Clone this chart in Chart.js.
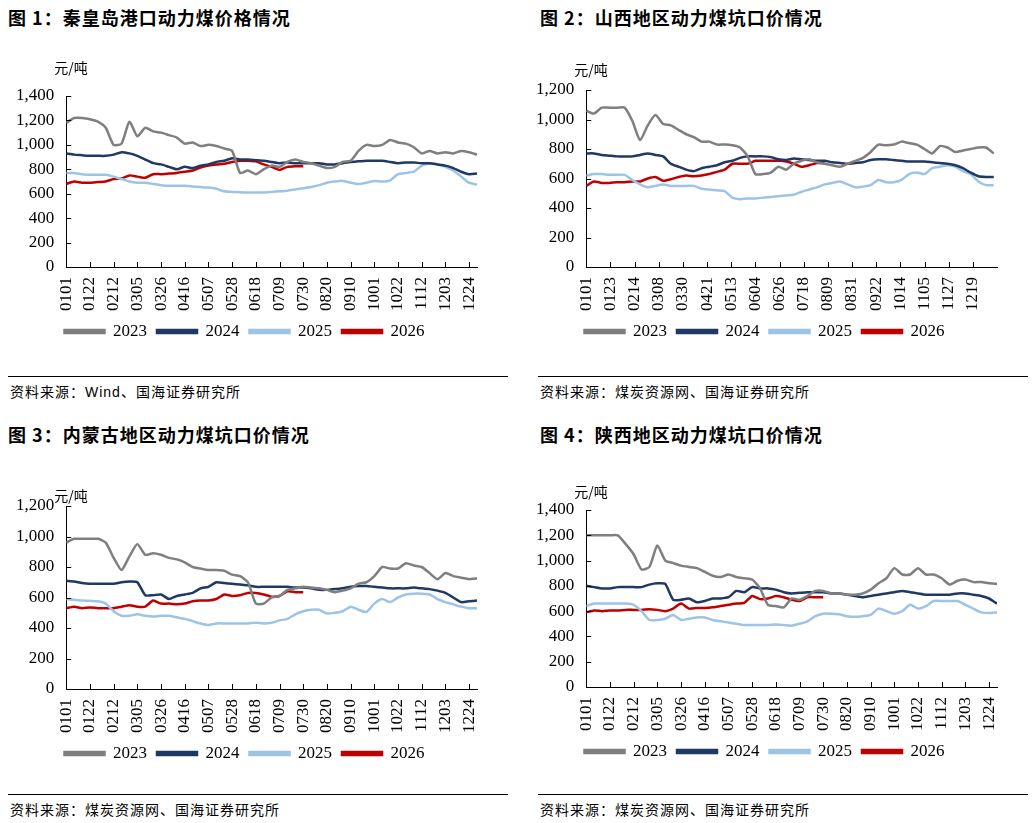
<!DOCTYPE html>
<html><head><meta charset="utf-8">
<script src="https://cdn.jsdelivr.net/npm/chart.js@4"></script>
<style>
body{margin:0;width:1035px;height:823px;background:#fff;position:relative;overflow:hidden;font-family:"Noto Sans CJK SC",sans-serif}
.t{position:absolute;font-weight:bold;font-size:18px;color:#000;letter-spacing:1px}
.s{position:absolute;font-size:14px;color:#000;letter-spacing:1px}
.l{position:absolute;height:1px;background:#000}
canvas{position:absolute}
</style></head><body>
<div class="t" style="left:8px;top:4px">图 1：秦皇岛港口动力煤价格情况</div>
<div class="t" style="left:540px;top:4px">图 2：山西地区动力煤坑口价情况</div>
<div class="t" style="left:8px;top:421px">图 3：内蒙古地区动力煤坑口价情况</div>
<div class="t" style="left:540px;top:421px">图 4：陕西地区动力煤坑口价情况</div>
<div class="l" style="left:8px;top:376px;width:500px"></div>
<div class="l" style="left:538px;top:376px;width:490px"></div>
<div class="l" style="left:8px;top:794px;width:500px"></div>
<div class="l" style="left:538px;top:794px;width:490px"></div>
<div class="s" style="left:10px;top:381px">资料来源：<span style="font-family:Arial,'Liberation Sans'">Wind</span>、国海证券研究所</div>
<div class="s" style="left:540px;top:381px">资料来源：煤炭资源网、国海证券研究所</div>
<div class="s" style="left:10px;top:799px">资料来源：煤炭资源网、国海证券研究所</div>
<div class="s" style="left:540px;top:799px">资料来源：煤炭资源网、国海证券研究所</div>
<canvas id="c1" width="515" height="310" style="left:0;top:40px"></canvas>
<canvas id="c2" width="515" height="310" style="left:520px;top:40px"></canvas>
<canvas id="c3" width="515" height="310" style="left:0;top:462px"></canvas>
<canvas id="c4" width="515" height="300" style="left:520px;top:470px"></canvas>
<script>
// weekly values (x = 7 * index days from 0101)
const years = ['2023','2024','2025','2026'];
const colors = ['#7f7f7f','#1f3864','#9dc3e6','#c00000'];

const qhd2023 = [1180,1220,1220,1210,1190,1140,1000,1010,1190,1070,1140,1110,1100,1080,1060,1010,1020,990,1000,990,970,950,770,790,760,800,830,820,860,880,860,850,830,810,820,860,870,950,1000,990,1000,1040,1020,1010,980,930,950,930,940,930,950,940,920];
const qhd2024 = [930,920,915,910,910,910,920,940,930,910,880,850,840,820,800,820,810,830,840,860,870,890,880,880,875,870,860,850,855,850,850,850,850,840,840,850,860,865,870,870,870,860,850,855,855,850,850,840,830,810,780,760,765];
const qhd2025 = [770,770,760,755,755,755,740,720,700,690,690,680,670,665,665,665,660,655,650,640,620,615,612,610,610,610,615,620,625,635,645,655,670,690,700,705,690,680,690,705,700,710,760,770,780,830,845,840,820,790,740,690,675];
const qhd2026 = [680,700,690,690,695,700,720,725,750,740,730,760,760,765,770,780,790,815,830,840,845,860,870,870,865,840,820,795,820,825,825];

const sx2023 = [1060,1040,1080,1080,1080,1080,990,860,960,1030,970,960,930,900,880,850,850,830,830,825,810,750,630,630,640,680,660,700,720,730,710,700,690,680,700,720,740,780,830,825,830,850,840,830,800,770,820,810,780,790,800,810,810,770];
const sx2024 = [770,770,760,755,750,750,750,760,770,760,750,700,680,660,650,670,680,690,710,720,740,750,750,750,745,730,725,735,730,725,720,720,710,705,700,705,710,725,730,730,725,720,715,715,715,710,705,700,690,670,640,615,610,610];
const sx2025 = [620,630,630,625,625,625,590,560,540,550,560,550,550,550,550,530,525,520,515,470,460,465,465,470,475,480,485,490,510,525,540,560,570,580,560,540,545,555,590,575,575,590,630,640,630,670,680,690,680,650,630,580,555,555];
const sx2026 = [550,580,570,570,575,575,580,580,600,610,585,595,610,620,615,620,630,645,660,700,700,700,720,720,720,720,715,700,680,690,705,705];

const nm2023 = [960,985,985,985,985,960,860,780,870,950,880,890,880,860,850,830,800,790,780,780,775,750,740,700,560,560,600,610,650,660,670,665,660,650,635,645,660,690,700,740,800,790,790,825,810,800,760,720,760,740,730,720,725,715];
const nm2024 = [710,705,695,690,690,690,690,700,705,700,615,615,620,590,610,620,630,660,670,700,695,690,685,680,670,670,670,670,670,665,665,660,650,650,655,660,670,675,675,670,665,660,660,660,665,660,655,645,630,600,570,575,580];
const nm2025 = [590,585,580,578,575,560,510,480,480,490,480,475,480,480,470,460,445,430,420,430,430,430,430,430,435,430,435,450,460,490,510,520,520,495,500,510,540,520,505,560,590,570,600,620,625,625,620,590,570,555,540,530,530];
const nm2026 = [530,540,530,535,530,530,530,540,550,540,540,580,560,560,555,560,575,580,580,590,620,610,615,630,630,620,605,610,640,635,635];

const sxx2023 = [1200,1200,1200,1200,1200,1130,1050,930,950,1120,1000,980,960,950,940,910,880,870,890,870,860,850,780,650,640,630,700,690,720,760,760,740,740,730,730,740,770,820,860,940,890,890,940,890,890,860,810,840,850,830,830,820,815,800];
const sxx2024 = [800,790,780,780,790,790,790,790,810,820,815,690,690,700,670,680,700,700,710,760,750,790,780,780,770,750,740,745,750,750,750,740,740,730,720,710,720,730,740,750,760,750,740,730,730,730,730,740,740,730,720,700,660,630,630];
const sxx2025 = [640,660,660,660,660,660,650,600,530,530,540,570,530,540,550,550,530,520,510,500,490,490,490,490,495,490,485,500,520,560,580,580,575,560,555,560,570,620,600,580,600,650,620,640,680,680,680,680,650,620,590,585,590];
const sxx2026 = [590,605,600,605,605,610,610,610,615,610,600,620,660,620,625,625,630,640,650,660,665,720,695,700,720,710,690,680,710,710,710];

function mmdd(d){
  const dt = new Date(2023,0,1+d);
  return String(dt.getMonth()+1).padStart(2,'0')+String(dt.getDate()).padStart(2,'0');
}
function pts(arr){ return arr.map((v,i)=>({x:i*7,y:v})); }

const unitPlugin = {
  id:'unit',
  afterDraw(chart){
    const c = chart.ctx, a = chart.chartArea, o = chart.options.plugins.unit;
    c.save();
    c.font = '14px "Noto Sans CJK SC"'; c.fillStyle = '#000';
    c.fillText('元/吨', a.left - 12, a.top - o.gap);
    // inward tick marks
    c.strokeStyle = '#000'; c.lineWidth = 1;
    const xs = chart.scales.x, ys = chart.scales.y;
    xs.ticks.forEach(t=>{ const px = Math.round(xs.getPixelForValue(t.value))+0.5; c.beginPath(); c.moveTo(px,a.bottom); c.lineTo(px,a.bottom-5); c.stroke(); });
    ys.ticks.forEach(t=>{ const py = Math.round(ys.getPixelForValue(t.value))+0.5; c.beginPath(); c.moveTo(a.left,py); c.lineTo(a.left+5,py); c.stroke(); });
    c.restore();
  }
};

function draw(id, series, ymax, xstep, xmax, tickmax, gap, top){
  new Chart(document.getElementById(id), {
    type:'line',
    data:{ datasets: series.map((s,i)=>({label:years[i], data:pts(s), borderColor:colors[i], backgroundColor:colors[i], borderWidth:2.5, pointRadius:0, tension:0.2})) },
    options:{
      responsive:false, animation:false,
      layout:{padding:{left:12,right:38,top:top,bottom:0}},
      scales:{
        x:{type:'linear', min:0, max:xmax, grid:{display:false}, border:{color:'#000'},
           ticks:{autoSkip:false, minRotation:90, maxRotation:90, padding:2, color:'#000', font:{family:'Liberation Serif',size:17}, callback:v=>mmdd(v)},
           afterBuildTicks:ax=>{ const t=[]; for(let v=0; v<=tickmax; v+=xstep) t.push({value:v}); ax.ticks=t; }},
        y:{min:0, max:ymax, grid:{display:false}, border:{color:'#000'},
           ticks:{stepSize:200, color:'#000', font:{family:'Liberation Serif',size:17}, padding:4, callback:v=>v.toLocaleString('en-US')}}
      },
      plugins:{
        unit:{gap:gap},
        tooltip:{enabled:false},
        legend:{position:'bottom', labels:{boxWidth:40, boxHeight:3, color:'#000', padding:10, font:{family:'Liberation Serif',size:17}}}
      }
    },
    plugins:[unitPlugin]
  });
}
draw('c1',[qhd2023,qhd2024,qhd2025,qhd2026],1400,21,364,357,28,56);
draw('c2',[sx2023,sx2024,sx2025,sx2026],1200,22,374,352,20,50);
draw('c3',[nm2023,nm2024,nm2025,nm2026],1200,21,364,357,10,44);
draw('c4',[sxx2023,sxx2024,sxx2025,sxx2026],1400,21,364,357,18,40);
</script>
</body></html>
